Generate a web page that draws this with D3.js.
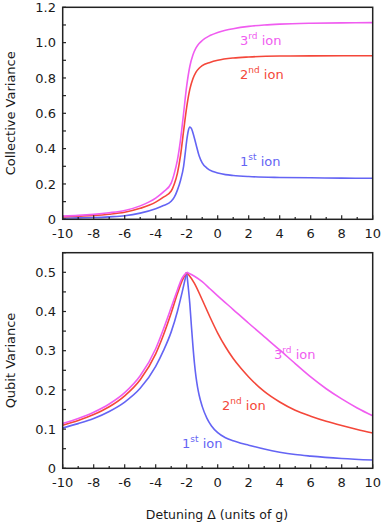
<!DOCTYPE html>
<html lang="en">
<head>
<meta charset="utf-8">
<title>Variance vs detuning</title>
<script src="https://d3js.org/d3.v7.min.js"></script>
<style>
  body { margin: 0; background: white; }
  text { font-family: 'DejaVu Sans', sans-serif; fill: #1a1a1a; }
  .frame { fill: none; stroke: #222; stroke-width: 1.5; }
  .tick { stroke: #222; stroke-width: 1.2; }
  .curve { fill: none; stroke-width: 1.6; }
</style>
</head>
<body>
<div id="container"></div>
<script>
// ---- data: [detuning, variance] ----
var xTicks = [-10, -8, -6, -4, -2, 0, 2, 4, 6, 8, 10];
var topTicks = [0, 0.2, 0.4, 0.6, 0.8, 1.0, 1.2];
var topTickLabels = ["0", "0.2", "0.4", "0.6", "0.8", "1.0", "1.2"];
var botTicks = [0, 0.1, 0.2, 0.3, 0.4, 0.5];
var botTickLabels = ["0", "0.1", "0.2", "0.3", "0.4", "0.5"];

var collective3 = [[-10,0.018],[-9,0.022],[-8,0.028],[-7,0.037],[-6,0.05],[-5,0.076],[-4,0.12],[-3.5,0.155],[-3,0.205],[-2.8,0.26],[-2.6,0.335],[-2.4,0.45],[-2.2,0.6],[-2,0.755],[-1.8,0.865],[-1.6,0.93],[-1.4,0.97],[-1.2,0.995],[-1,1.012],[-0.5,1.04],[0,1.058],[0.5,1.07],[1,1.079],[2,1.092],[3,1.1],[4,1.105],[6,1.11],[8,1.112],[10,1.113]];
var collective2 = [[-10,0.014],[-9,0.018],[-8,0.022],[-7,0.029],[-6,0.04],[-5,0.062],[-4,0.097],[-3.5,0.125],[-3,0.16],[-2.8,0.2],[-2.6,0.26],[-2.4,0.36],[-2.2,0.5],[-2,0.635],[-1.8,0.735],[-1.6,0.795],[-1.4,0.833],[-1.2,0.855],[-1,0.87],[-0.5,0.888],[0,0.9],[1,0.913],[2,0.919],[4,0.924],[6,0.925],[10,0.926]];
var collective1 = [[-10,0.006],[-9,0.008],[-8,0.01],[-7,0.014],[-6,0.02],[-5,0.035],[-4,0.06],[-3.5,0.078],[-3,0.102],[-2.8,0.125],[-2.6,0.165],[-2.4,0.22],[-2.2,0.3],[-2.1,0.37],[-2,0.445],[-1.9,0.5],[-1.8,0.522],[-1.7,0.515],[-1.6,0.49],[-1.4,0.425],[-1.2,0.36],[-1,0.32],[-0.7,0.29],[-0.3,0.27],[0,0.262],[0.5,0.253],[1,0.248],[2,0.242],[4,0.237],[6,0.235],[8,0.233],[10,0.232]];

var qubit3 = [[-10,0.114],[-9,0.127],[-8,0.143],[-7,0.164],[-6,0.193],[-5,0.236],[-4,0.305],[-3.5,0.355],[-3,0.41],[-2.6,0.455],[-2.3,0.485],[-2,0.5],[-1.5,0.49],[-1,0.476],[-0.5,0.458],[0,0.44],[1,0.405],[2,0.37],[3,0.336],[4,0.302],[5,0.267],[6,0.233],[7,0.203],[8,0.177],[9,0.154],[10,0.134]];
var qubit2 = [[-10,0.11],[-9,0.122],[-8,0.137],[-7,0.157],[-6,0.185],[-5,0.226],[-4,0.292],[-3.5,0.34],[-3,0.396],[-2.6,0.445],[-2.3,0.478],[-2,0.5],[-1.5,0.472],[-1,0.43],[-0.5,0.386],[0,0.345],[0.5,0.31],[1,0.28],[1.5,0.255],[2,0.233],[3,0.196],[4,0.169],[5,0.148],[6,0.133],[7,0.12],[8,0.109],[9,0.099],[10,0.09]];
var qubit1 = [[-10,0.103],[-9,0.114],[-8,0.127],[-7,0.145],[-6,0.169],[-5,0.204],[-4,0.26],[-3.5,0.3],[-3,0.348],[-2.6,0.4],[-2.3,0.448],[-2,0.5],[-1.9,0.462],[-1.8,0.42],[-1.7,0.365],[-1.6,0.313],[-1.5,0.268],[-1.4,0.233],[-1.3,0.207],[-1.2,0.187],[-1,0.158],[-0.7,0.128],[-0.4,0.108],[0,0.091],[0.5,0.078],[1,0.07],[1.5,0.064],[2,0.059],[3,0.049],[4,0.041],[5,0.035],[6,0.031],[8,0.025],[10,0.021]];

var colors = { ion3: "#f05cf0", ion2: "#f4473a", ion1: "#6464f4" };

var w = 382, h = 523;
var svg = d3.select("div#container").append("svg")
    .attr("width", w).attr("height", h)
    .style("background-color", "white");

var x = d3.scaleLinear().domain([-10, 10]).range([62.7, 372.7]);
var yTop = d3.scaleLinear().domain([0, 1.2]).range([219.3, 7.3]);
var yBot = d3.scaleLinear().domain([0, 0.55]).range([468.3, 252.7]);

// ---------------------------//
//       PANEL DRAWING        //
// ---------------------------//
function panel(y, ticks, labels, minorStep, title, series, ionLabels, splitAt) {
  var g = svg.append("g");
  var y0 = y.range()[0], y1 = y.range()[1];

  // curves (optionally split at the cusp so the peak stays sharp)
  var line = d3.line()
      .x(function(d) { return x(d[0]); })
      .y(function(d) { return y(d[1]); })
      .curve(d3.curveMonotoneX);
  series.forEach(function(s) {
    var parts = splitAt == null ? [s.data] :
      [s.data.filter(function(d) { return d[0] <= splitAt; }),
       s.data.filter(function(d) { return d[0] >= splitAt; })];
    parts.forEach(function(p) {
      g.append("path").datum(p)
        .attr("class", "curve")
        .attr("stroke", s.color)
        .attr("d", line);
    });
  });

  // frame
  g.append("rect").attr("class", "frame")
    .attr("x", x(-10)).attr("y", y1)
    .attr("width", x(10) - x(-10)).attr("height", y0 - y1);

  // x ticks (inside), majors at even, minors at odd
  d3.range(-10, 11, 1).forEach(function(v) {
    var len = (v % 2 === 0) ? 4 : 2.2;
    g.append("line").attr("class", "tick")
      .attr("x1", x(v)).attr("x2", x(v))
      .attr("y1", y0).attr("y2", y0 - len);
  });
  xTicks.forEach(function(v) {
    g.append("text").attr("x", x(v)).attr("y", y0 + 19)
      .attr("text-anchor", "middle").style("font-size", "13px")
      .text(v);
  });

  // y ticks (inside)
  var dom = y.domain();
  d3.range(dom[0], dom[1] + 1e-9, minorStep).forEach(function(v) {
    g.append("line").attr("class", "tick")
      .attr("x1", x(-10)).attr("x2", x(-10) + 3.3)
      .attr("y1", y(v)).attr("y2", y(v));
  });
  ticks.forEach(function(v, i) {
    g.append("text").attr("x", 56).attr("y", y(v) + 4.6)
      .attr("text-anchor", "end").style("font-size", "13px")
      .text(labels[i]);
  });

  // axis title
  g.append("text")
    .attr("transform", "translate(15," + ((y0 + y1) / 2) + ") rotate(-90)")
    .attr("text-anchor", "middle").style("font-size", "13px")
    .text(title);

  // ion labels
  ionLabels.forEach(function(l) {
    var t = g.append("text").attr("x", l.x).attr("y", l.y)
      .style("font-size", "13px").style("fill", l.color);
    t.append("tspan").text(l.num);
    t.append("tspan").attr("dy", -6).style("font-size", "9px").text(l.sup);
    t.append("tspan").attr("dy", 6).text(" ion");
  });
}

panel(yTop, topTicks, topTickLabels, 0.1, "Collective Variance",
  [{ data: collective1, color: colors.ion1 },
   { data: collective2, color: colors.ion2 },
   { data: collective3, color: colors.ion3 }],
  [{ x: 240, y: 45, num: "3", sup: "rd", color: colors.ion3 },
   { x: 240, y: 79, num: "2", sup: "nd", color: colors.ion2 },
   { x: 240, y: 166, num: "1", sup: "st", color: colors.ion1 }], null);

panel(yBot, botTicks, botTickLabels, 0.05, "Qubit Variance",
  [{ data: qubit1, color: colors.ion1 },
   { data: qubit2, color: colors.ion2 },
   { data: qubit3, color: colors.ion3 }],
  [{ x: 274, y: 359, num: "3", sup: "rd", color: colors.ion3 },
   { x: 222, y: 410, num: "2", sup: "nd", color: colors.ion2 },
   { x: 182, y: 448, num: "1", sup: "st", color: colors.ion1 }], -2);

svg.append("text").attr("x", 217).attr("y", 519)
  .attr("text-anchor", "middle").style("font-size", "12.5px")
  .text("Detuning \u0394 (units of g)");
</script>
</body>
</html>
